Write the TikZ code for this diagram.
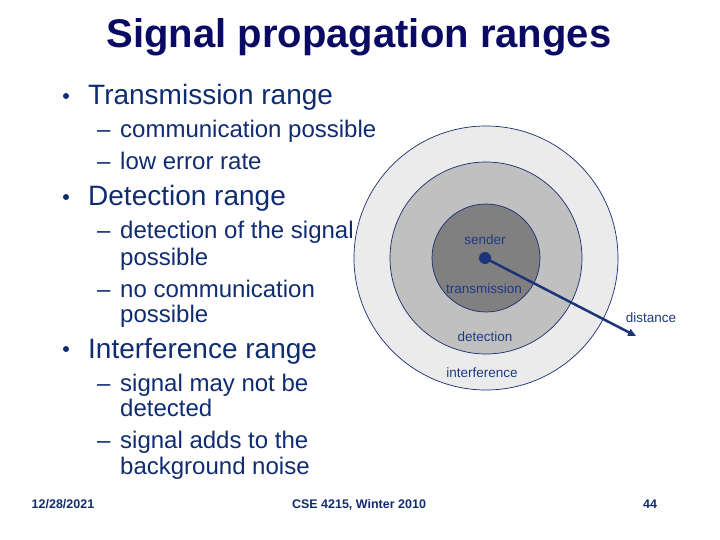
\documentclass[tikz,border=0pt]{standalone}
\usepackage{fontspec}
\setmainfont{Liberation Sans}
\usetikzlibrary{arrows.meta}
\definecolor{titleblue}{HTML}{0A0A64}
\definecolor{textblue}{HTML}{102C70}
\definecolor{labelblue}{HTML}{1E3A86}
\definecolor{ringline}{HTML}{1A2A70}
\definecolor{farfill}{HTML}{EBEBEB}
\definecolor{midfill}{HTML}{C0C0C0}
\definecolor{nearfill}{HTML}{808080}
\tikzset{
  main/.style={anchor=base west, inner sep=0pt, text=textblue, font=\fontsize{28}{30}\selectfont},
  sub/.style={anchor=base west, inner sep=0pt, text=textblue, font=\fontsize{24}{26}\selectfont},
  dot/.style={circle, fill=textblue, inner sep=0pt, minimum size=6pt},
  lbl/.style={anchor=base, inner sep=0pt, text=labelblue, font=\fontsize{13.5}{15}\selectfont},
  foot/.style={anchor=base, inner sep=0pt, text=textblue, font=\fontsize{12.5}{14}\selectfont\bfseries},
  ring/.style={draw=ringline, line width=0.7pt}
}
\begin{document}
\begin{tikzpicture}[x=1pt,y=-1pt]
            \useasboundingbox (0,0) rectangle (720,540);
            \node[anchor=base, inner sep=0pt, text=titleblue, font=\fontsize{40}{44}\selectfont\bfseries] (title) at (359,48) {Signal propagation ranges};

            % Aufzaehlung links
            \node[dot] (b1) at (66,96) {};
            \node[main] (t1) at (88,105) {Transmission range};
            \node[sub] (d11) at (97,138) {--};
            \node[sub] (s11) at (120,138) {communication possible};
            \node[sub] (d12) at (97,170) {--};
            \node[sub] (s12) at (120,170) {low error rate};

            \node[dot] (b2) at (66,197) {};
            \node[main] (t2) at (88,206) {Detection range};
            \node[sub] (d21) at (97,239) {--};
            \node[sub] (s21) at (120,239) {detection of the signal};
            \node[sub] (s21b) at (120,265) {possible};
            \node[sub] (d22) at (97,297) {--};
            \node[sub] (s22) at (120,297) {no communication};
            \node[sub] (s22b) at (120,322) {possible};

            \node[dot] (b3) at (66,349) {};
            \node[main] (t3) at (88,358) {Interference range};
            \node[sub] (d31) at (97,391) {--};
            \node[sub] (s31) at (120,391) {signal may not be};
            \node[sub] (s31b) at (120,416) {detected};
            \node[sub] (d32) at (97,448) {--};
            \node[sub] (s32) at (120,448) {signal adds to the};
            \node[sub] (s32b) at (120,474) {background noise};

            % Kreise um den Sender
            \fill[farfill, ring] (486,258) circle (132);
            \fill[midfill, ring] (486,258) circle (96);
            \fill[nearfill, ring] (486,258) circle (54);

            \node[lbl] (lsend) at (485,244) {sender};
            \node[lbl] (ltrans) at (484,293) {transmission};
            \node[lbl] (ldet) at (485,341) {detection};
            \node[lbl] (lint) at (482,377) {interference};
            \node[lbl] (ldist) at (651,322) {distance};

            \node[circle, fill=labelblue!90!black, inner sep=0pt, minimum size=12pt] (sender) at (485,258) {};
            \coordinate (dist) at (636,336);
            \draw[labelblue!90!black, line width=2.5pt, -{Triangle[length=8pt,width=7pt]}] (sender.center) -- (dist);

            % Fusszeile
            \node[foot] (date) at (63,508) {12/28/2021};
            \node[foot] (course) at (359,508) {CSE 4215, Winter 2010};
            \node[foot] (page) at (650,508) {44};
\end{tikzpicture}
\end{document}
